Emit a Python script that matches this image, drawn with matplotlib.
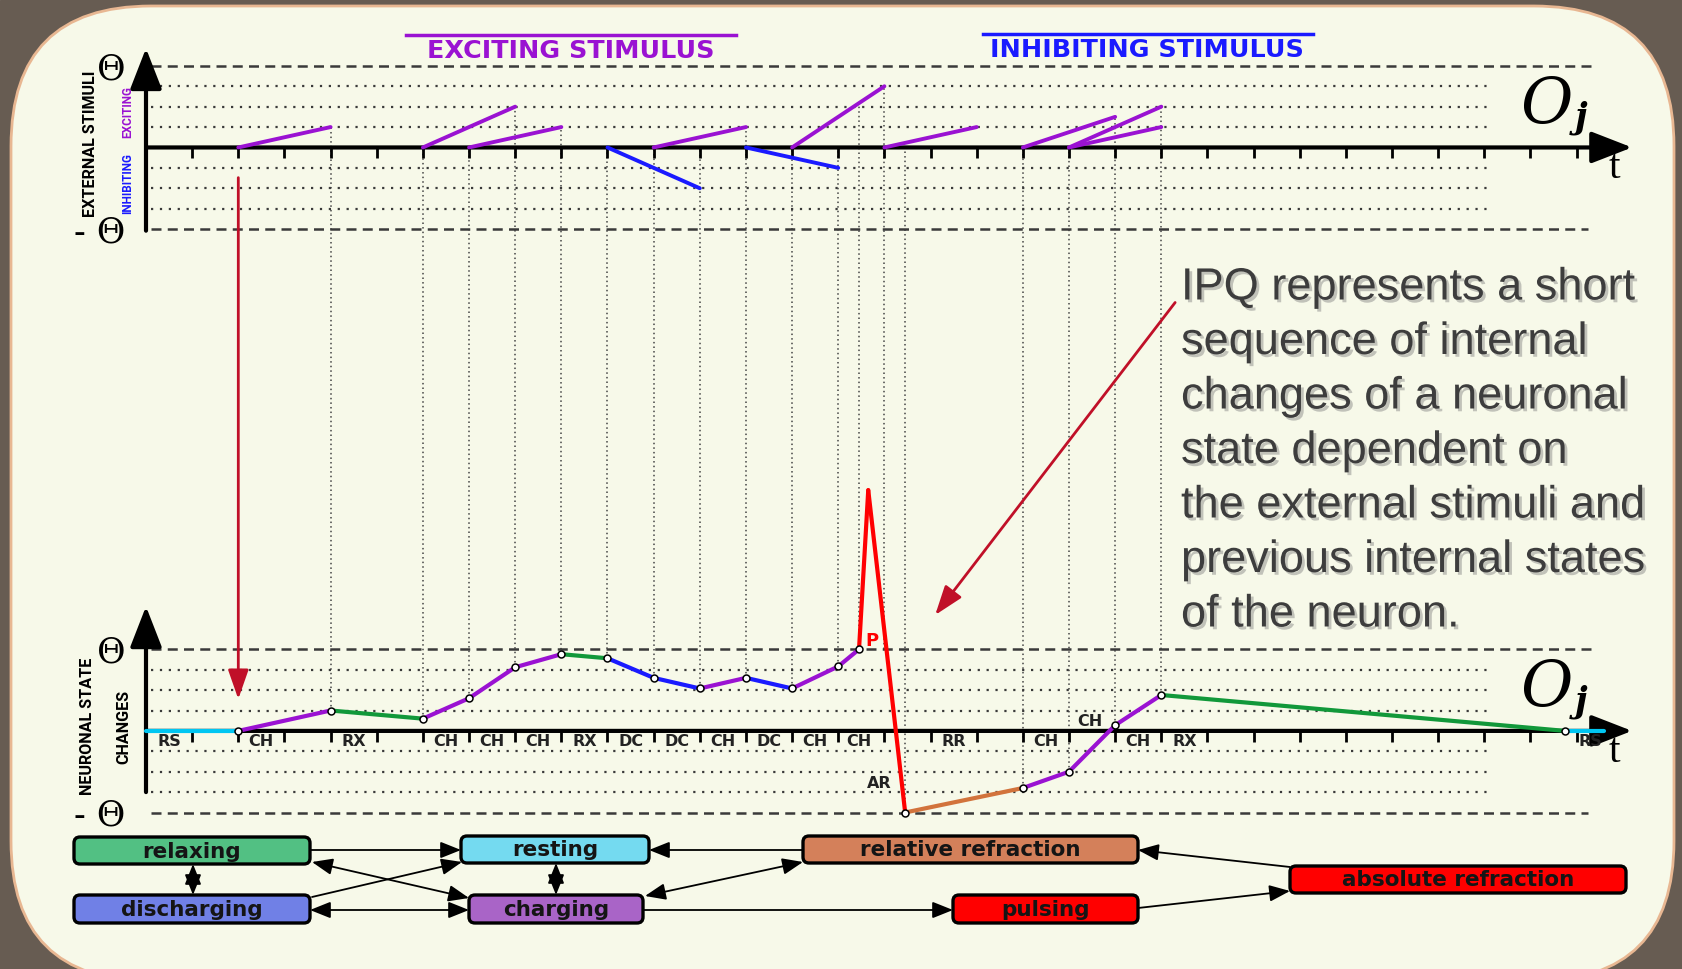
import matplotlib.pyplot as plt
import matplotlib.patheffects as pe
from matplotlib.patches import FancyBboxPatch, Rectangle
import numpy as np

# ---------------- data ----------------
# time in tick units, values in units of theta
ticks = np.arange(1, 32)

exc_start = [2, 6, 7, 11, 14, 16, 19, 20, 20]
exc_end = [4, 8, 9, 13, 16, 18, 21, 22, 22]
exc_level = [0.25, 0.5, 0.25, 0.25, 0.75, 0.25, 0.375, 0.5, 0.25]

inh_start = [10, 13]
inh_end = [12, 15]
inh_level = [-0.5, -0.25]

state_t = [0, 2, 4, 6, 7, 8, 9, 10, 11, 12, 13, 14, 15, 15.45, 15.65, 16.45,
           19, 20, 21, 22, 30.75, 31.6]
state_v = [0, 0, 0.25, 0.15, 0.4, 0.78, 0.94, 0.89, 0.65, 0.52, 0.65, 0.52,
           0.79, 1.0, 2.95, -1.0, -0.7, -0.5, 0.07, 0.44, 0, 0]
state_seg = ['RS', 'CH', 'RX', 'CH', 'CH', 'CH', 'RX', 'DC', 'DC', 'CH', 'DC',
             'CH', 'CH', 'P', 'P', 'RR', 'CH', 'CH', 'CH', 'RX', 'RS']

label_text = ['RS', 'CH', 'RX', 'CH', 'CH', 'CH', 'RX', 'DC', 'DC', 'CH', 'DC',
              'CH', 'CH', 'RR', 'CH', 'CH', 'RX', 'RS']
label_t = [0.5, 2.5, 4.5, 6.5, 7.5, 8.5, 9.5, 10.5, 11.5, 12.5, 13.5, 14.5,
           15.45, 17.5, 19.5, 21.5, 22.5, 31.3]

guide_t = [4, 6, 7, 8, 9, 10, 11, 12, 13, 14, 15, 15.45, 16, 16.45, 19, 20, 21, 22]
guide_top = [0.25, 0, 0, 0.5, 0.25, 0, 0, 0, 0.25, 0, 0, 0.54, 0.75, 0, 0, 0, 0.375, 0.5]
guide_bot = [0.25, 0.15, 0.4, 0.78, 0.94, 0.89, 0.65, 0.52, 0.65, 0.52, 0.79,
             1.0, 1.0, -1.0, -0.7, -0.5, 0.07, 0.44]

para_lines = ['IPQ represents a short', 'sequence of internal',
              'changes of a neuronal', 'state dependent on',
              'the external stimuli and', 'previous internal states',
              'of the neuron.']

box_names = ['relaxing', 'discharging', 'resting', 'charging',
             'relative refraction', 'pulsing', 'absolute refraction']

# ---------------- styles / layout ----------------
seg_colors = {'RS': '#00c6f2', 'CH': '#9a12d2', 'RX': '#11983a', 'DC': '#1a1aff',
              'P': '#ff0000', 'RR': '#d2733c'}
box_colors = {'relaxing': '#52c083', 'discharging': '#7080e6', 'resting': '#74daf0',
              'charging': '#a964c7', 'relative refraction': '#d4805a',
              'pulsing': '#ff0000', 'absolute refraction': '#ff0000'}
# pixel boxes x0, x1, y0, y1
box_pos = {'relaxing': (74, 310, 837, 864), 'discharging': (74, 310, 895, 923),
           'resting': (461, 649, 836, 863), 'charging': (469, 643, 895, 923),
           'relative refraction': (803, 1138, 836, 863),
           'pulsing': (953, 1138, 895, 923),
           'absolute refraction': (1290, 1626, 866, 893)}
links = [((310, 850), (461, 850), '-|>'), ((803, 850), (649, 850), '-|>'),
         ((193, 864), (193, 895), '<|-|>'), ((556, 863), (556, 895), '<|-|>'),
         ((310, 910), (469, 910), '<|-|>'), ((312, 862), (469, 898), '<|-|>'),
         ((312, 897), (462, 862), '-|>'), ((645, 896), (803, 862), '<|-|>'),
         ((643, 910), (953, 910), '-|>'), ((1138, 908), (1290, 891), '-|>'),
         ((1290, 867), (1138, 850), '-|>')]

W, H = 1683, 969
TOP = 7.15  # offset of the stimuli panel above the state panel
EXC = '#9a12d2'
INH = '#1a1aff'
ARW = '#c01028'

fig = plt.figure(figsize=(W / 100, H / 100), dpi=100)

# background + flow diagram in pixel coordinates
bg = fig.add_axes([0, 0, 1, 1])
bg.set_xlim(0, W)
bg.set_ylim(H, 0)
bg.axis('off')
bg.add_patch(Rectangle((0, 0), W, H, color='#675c52', zorder=0))
bg.add_patch(FancyBboxPatch((11, 6), 1663, 975, boxstyle='round,pad=0,rounding_size=140',
                            fc='#f7f9e9', ec='#e8b792', lw=2, zorder=1))

for name in box_names:
    x0, x1, y0, y1 = box_pos[name]
    bg.add_patch(FancyBboxPatch((x0, y0), x1 - x0, y1 - y0,
                                boxstyle='round,pad=0,rounding_size=6',
                                fc=box_colors[name], ec='black', lw=2.4, zorder=3))
    bg.text((x0 + x1) / 2, (y0 + y1) / 2 + 1, name, ha='center', va='center',
            fontsize=15.5, fontweight='bold', family='DejaVu Sans',
            color='#151515', zorder=4)

for p0, p1, st in links:
    bg.annotate('', xy=p1, xytext=p0, zorder=2,
                arrowprops=dict(arrowstyle=st + ',head_length=0.7,head_width=0.28',
                                mutation_scale=18, lw=1.3, color='black',
                                shrinkA=0, shrinkB=0))

# titles
bg.plot([406, 736], [35, 35], color=EXC, lw=2.5, zorder=2)
bg.text(571, 51, 'EXCITING STIMULUS', color=EXC, fontsize=18.3, fontweight='bold',
        ha='center', va='center', zorder=2)
bg.plot([983, 1313], [34, 34], color=INH, lw=2.5, zorder=2)
bg.text(1147, 50, 'INHIBITING STIMULUS', color=INH, fontsize=18.3, fontweight='bold',
        ha='center', va='center', zorder=2)

# axis titles
bg.text(91, 144, 'EXTERNAL STIMULI', rotation=90, ha='center', va='center',
        fontsize=11.6, fontweight='bold', family='Roboto', zorder=2)
bg.text(128, 112, 'EXCITING', rotation=90, ha='center', va='center', color=EXC,
        fontsize=8.5, fontweight='bold', family='Roboto', zorder=2)
bg.text(128, 184, 'INHIBITING', rotation=90, ha='center', va='center', color=INH,
        fontsize=8.5, fontweight='bold', family='Roboto', zorder=2)
bg.text(88, 726, 'NEURONAL STATE', rotation=90, ha='center', va='center',
        fontsize=11.6, fontweight='bold', family='Roboto', zorder=2)
bg.text(124, 727, 'CHANGES', rotation=90, ha='center', va='center',
        fontsize=11.6, fontweight='bold', family='Roboto', zorder=2)

# explanatory paragraph
for i, line in enumerate(para_lines):
    bg.text(1181, 288 + 54.5 * i, line, fontsize=32.5, family='Liberation Sans',
            color='#3d3d3d', ha='left', va='center', zorder=2,
            path_effects=[pe.withSimplePatchShadow(offset=(2, -2), shadow_rgbFace='#808080',
                                                    alpha=0.45)])

# ---------------- data axes ----------------
ax = fig.add_axes([0, 0, 1, 1])
ax.patch.set_alpha(0)
ax.set_xlim(-146 / 46.15, (W - 146) / 46.15)
ax.set_ylim(-(H - 730.9) / 81.6, 730.9 / 81.6)
ax.axis('off')

dash = (0, (4, 2.5))
dot = (0, (1, 3))
for base in (0, TOP):
    ax.hlines([base + 1], 0.1, 31.45, colors='#3a3a3a', linestyles=[dash], lw=1.8)
    ax.hlines([base - 1], 0.1, 31.25, colors='#3a3a3a', linestyles=[dash], lw=1.8)
    ax.hlines(base + np.array([0.75, 0.5, 0.25, -0.25, -0.5, -0.75]), 0.1, 29.1,
              colors='#3a3a3a', linestyles=[dot], lw=1.6)
    ax.vlines(ticks, base - 0.13, base, colors='black', lw=2)
    ax.annotate('', xy=(32.2, base), xytext=(0, base),
                arrowprops=dict(arrowstyle='-|>,head_length=0.9,head_width=0.35',
                                mutation_scale=28, lw=3, color='black',
                                shrinkA=0, shrinkB=0))
    ax.text(31.81, base - 0.25, 't', fontsize=30, family='Liberation Serif',
            ha='center', va='center')
    ax.text(30.35, base + 0.5, 'O', fontsize=46, family='DejaVu Serif', style='italic',
            ha='center', va='center')
    ax.text(31.1, base + 0.36, 'j', fontsize=25, family='DejaVu Serif', style='italic',
            fontweight='bold', ha='center', va='center')
    ax.text(-0.44, base + 1.0, 'Θ', fontsize=25, family='DejaVu Serif',
            ha='right', va='center_baseline')
    ax.text(-0.44, base - 1.0, '- Θ', fontsize=25, family='DejaVu Serif',
            ha='right', va='center_baseline')

# y axes
ax.annotate('', xy=(0, TOP + 1.215), xytext=(0, TOP - 1.02),
            arrowprops=dict(arrowstyle='-|>,head_length=0.9,head_width=0.35',
                            mutation_scale=28, lw=3, color='black', shrinkA=0, shrinkB=0))
ax.annotate('', xy=(0, 1.526), xytext=(0, -0.75),
            arrowprops=dict(arrowstyle='-|>,head_length=0.9,head_width=0.35',
                            mutation_scale=28, lw=3, color='black', shrinkA=0, shrinkB=0))

# vertical guides
ax.vlines(guide_t, guide_bot, TOP + np.array(guide_top), colors='#444444',
          linestyles=[(0, (1, 2))], lw=1.1, zorder=1)

# stimuli
for s, e, v in zip(exc_start, exc_end, exc_level):
    ax.plot([s, e], [TOP, TOP + v], color=EXC, lw=2.8, solid_capstyle='round', zorder=4)
for s, e, v in zip(inh_start, inh_end, inh_level):
    ax.plot([s, e], [TOP, TOP + v], color=INH, lw=2.8, solid_capstyle='round', zorder=4)

# neuronal state trajectory
for i, seg in enumerate(state_seg):
    ax.plot(state_t[i:i + 2], state_v[i:i + 2], color=seg_colors[seg], lw=3,
            solid_capstyle='round', zorder=4)
mk = [i for i in range(1, len(state_t) - 1) if i != 14]
ax.plot(np.array(state_t)[mk], np.array(state_v)[mk], 'o', ms=5, mfc='white',
        mec='black', mew=1.1, zorder=5)

for txt, t in zip(label_text, label_t):
    ax.text(t, -0.13, txt, fontsize=11.5, fontweight='bold', color='#222222',
            family='DejaVu Sans', ha='center', va='center', zorder=3)
ax.text(20.45, 0.11, 'CH', fontsize=11.5, fontweight='bold', color='#222222',
        family='DejaVu Sans', ha='center', va='center')
ax.text(15.88, -0.64, 'AR', fontsize=11.5, fontweight='bold', color='#222222',
        family='DejaVu Sans', ha='center', va='center')
ax.text(15.72, 1.1, 'P', fontsize=13, fontweight='bold', color='#ff0000',
        family='DejaVu Sans', ha='center', va='center')

# red annotation arrows
ax.annotate('', xy=(2, 0.39), xytext=(2, TOP - 0.37),
            arrowprops=dict(arrowstyle='-|>,head_length=1.0,head_width=0.35',
                            mutation_scale=18, lw=2, color=ARW, shrinkA=0, shrinkB=0))
ax.annotate('', xy=(17.1, 1.42), xytext=(22.3, 5.25),
            arrowprops=dict(arrowstyle='-|>,head_length=1.0,head_width=0.35',
                            mutation_scale=18, lw=2, color=ARW, shrinkA=0, shrinkB=0))

fig.savefig('out.png', dpi=100)
